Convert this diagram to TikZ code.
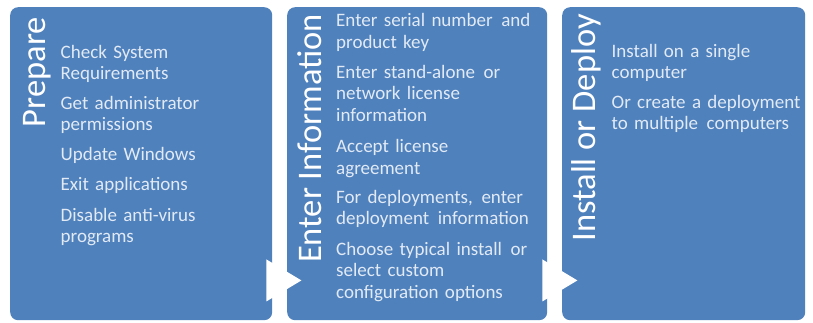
\documentclass[tikz,border=0pt]{standalone}
\usepackage{fontspec}
\setmainfont{Carlito}
\usetikzlibrary{positioning,calc}
\definecolor{pBlue}{RGB}{79,129,189}
\definecolor{pText}{RGB}{226,234,245}
\newcommand{\wsp}{\hspace{0.12em} }
\tikzset{
    panel/.style={rounded corners=8pt, fill=pBlue, inner sep=0pt, anchor=north west},
    ptitle/.style={rotate=90, anchor=base east, inner sep=0pt, text=white, font=\fontsize{34.5}{34.5}\selectfont},
    pitem/.style={anchor=base west, inner sep=0pt, align=left, text width=215pt, text=pText, font=\fontsize{19}{21.7}\selectfont},
    tipfill/.style={fill=white}
}
\begin{document}
\begin{tikzpicture}[x=1pt,y=-1pt]
\useasboundingbox (0,0) rectangle (813,322);
% the three stages
\node[panel, minimum width=262pt, minimum height=313pt] (prep) at ( 10,7) {};
\node[panel, minimum width=260pt, minimum height=313pt] (info) at (287,7) {};
\node[panel, minimum width=243pt, minimum height=313pt] (inst) at (562,7) {};
% titles
\node[ptitle] (prepT) at ( 45,17) {Prepare};
\node[ptitle] (infoT) at (321,14) {Enter Information};
\node[ptitle] (instT) at (595,14) {Install or Deploy};
% prepare
\node[pitem] (p1) at (60.5, 58.0) {Check System\\Requirements};
\node[pitem] (p2) at (60.5,109.0) {Get administrator\\permissions};
\node[pitem] (p3) at (60.5,160.5) {Update Windows};
\node[pitem] (p4) at (60.5,190.5) {Exit applications};
\node[pitem] (p5) at (60.5,221.0) {Disable anti-virus\\programs};
% enter information
\node[pitem] (e1) at (336, 26.7) {Enter serial number\wsp and\\product key};
\node[pitem] (e2) at (336, 78.0) {Enter stand-alone\wsp or\\network license\\information};
\node[pitem] (e3) at (336,152.5) {Accept license\\agreement};
\node[pitem] (e4) at (336,203.0) {For deployments,\wsp enter\\deployment\wsp information};
\node[pitem] (e5) at (336,255.0) {Choose typical install\wsp or\\select custom\\configuration options};
% install or deploy
\node[pitem] (d1) at (611.5, 57.0) {Install on a single\\computer};
\node[pitem] (d2) at (611.5,108.0) {Or create a deployment\\to multiple\wsp computers};
% arrows between stages
\fill[tipfill] ($(prep.south east)+(-6,-61)$) -- ($(prep.south east)+(29,-40)$) -- ($(prep.south east)+(-6,-19)$) -- cycle;
\fill[tipfill] ($(info.south east)+(-5,-61)$) -- ($(info.south east)+(30,-40)$) -- ($(info.south east)+(-5,-19)$) -- cycle;
\end{tikzpicture}
\end{document}
